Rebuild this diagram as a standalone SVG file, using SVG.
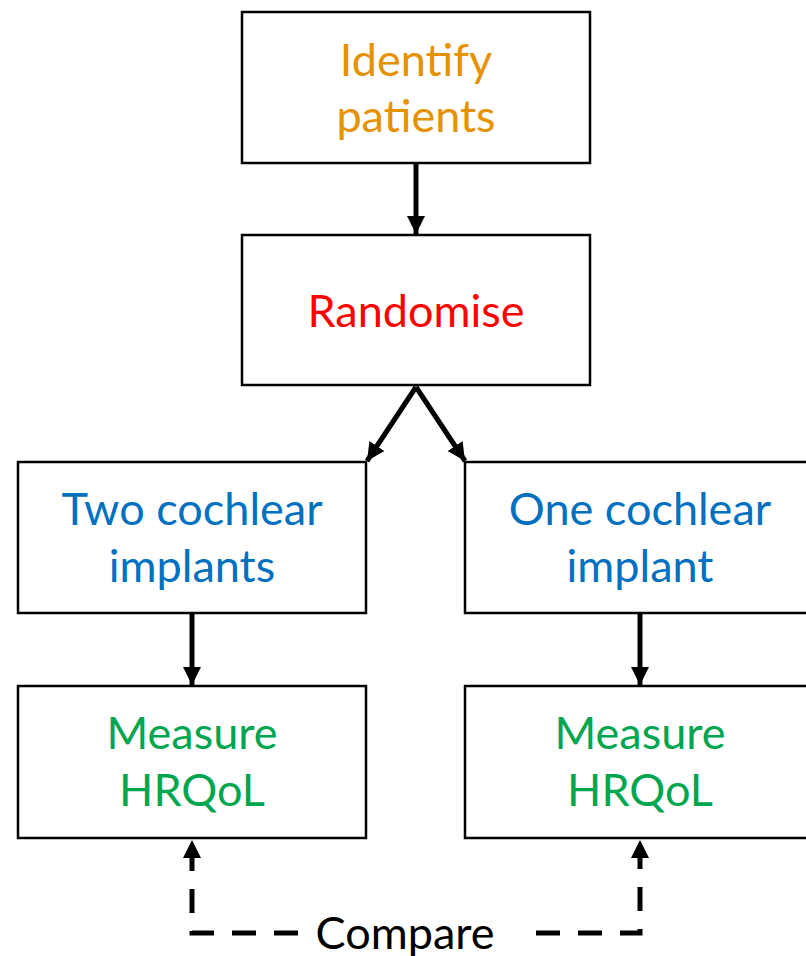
<svg xmlns="http://www.w3.org/2000/svg" width="806" height="956" viewBox="0 0 806 956">
<defs>
<marker id="ah" viewBox="0 0 10 10" refX="10" refY="5" markerWidth="3.6" markerHeight="3.6" orient="auto" markerUnits="strokeWidth">
<path d="M0,0 L10,5 L0,10 Z" fill="#000"/>
</marker>
<style>
.box{fill:#fff;stroke:#000;stroke-width:2.5}
.t{font-family:Lato,"Open Sans","Liberation Sans",sans-serif;font-size:45px;text-anchor:middle}
.c{stroke:#000;stroke-width:5;fill:none}
.d{stroke:#000;stroke-width:5;fill:none;stroke-dasharray:24 18}
</style>
</defs>
<rect width="806" height="956" fill="#fff"/>
<g id="identify">
<rect class="box" x="242" y="12" width="348" height="151"/>
<text class="t" x="416" y="76" fill="#E69100">Identify</text>
<text class="t" x="416" y="132" fill="#E69100">patients</text>
</g>
<g id="randomise">
<rect class="box" x="242" y="235" width="348" height="150"/>
<text class="t" x="416" y="327" fill="#FF0000">Randomise</text>
</g>
<g id="two">
<rect class="box" x="18" y="462" width="348" height="151"/>
<text class="t" x="192" y="525" fill="#0070C0">Two cochlear</text>
<text class="t" x="192" y="582" fill="#0070C0">implants</text>
</g>
<g id="one">
<rect class="box" x="465" y="462" width="350" height="151"/>
<text class="t" x="640" y="525" fill="#0070C0">One cochlear</text>
<text class="t" x="640" y="582" fill="#0070C0">implant</text>
</g>
<g id="measure-left">
<rect class="box" x="18" y="686" width="348" height="152"/>
<text class="t" x="192" y="749" fill="#00A550">Measure</text>
<text class="t" x="192" y="806" fill="#00A550">HRQoL</text>
</g>
<g id="measure-right">
<rect class="box" x="465" y="686" width="350" height="152"/>
<text class="t" x="640" y="749" fill="#00A550">Measure</text>
<text class="t" x="640" y="806" fill="#00A550">HRQoL</text>
</g>
<g id="compare">
<text class="t" x="405" y="949" fill="#000">Compare</text>
</g>
<g id="connectors">
<line class="c" x1="416" y1="164" x2="416" y2="234" marker-end="url(#ah)"/>
<line class="c" x1="416" y1="387" x2="367" y2="461" marker-end="url(#ah)"/>
<line class="c" x1="416" y1="387" x2="465" y2="461" marker-end="url(#ah)"/>
<line class="c" x1="192" y1="614" x2="192" y2="685" marker-end="url(#ah)"/>
<line class="c" x1="640" y1="614" x2="640" y2="685" marker-end="url(#ah)"/>
<path class="d" d="M298,933 H192 V840" marker-end="url(#ah)"/>
<path class="d" d="M536,933 H640 V840" marker-end="url(#ah)"/>
</g>
</svg>
